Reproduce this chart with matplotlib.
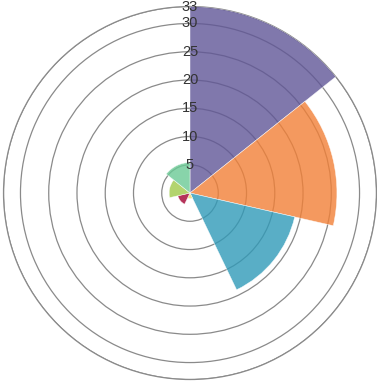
import numpy as np
import matplotlib
matplotlib.use("Agg")
import matplotlib.pyplot as plt

values = [33, 26, 19, 1, 2.2, 3.7, 5.4]
colors = ['#605697', '#f28037', '#309ab8', '#f3d86e', '#a30031', '#a0ca4a', '#6aca95']
ticks = [5, 10, 15, 20, 25, 30, 33]
rmax = 33

fig = plt.figure(figsize=(3.77, 3.86), dpi=100)
ax = fig.add_axes([0.0093, 0.0168, 0.9894, 0.9663], projection='polar')
ax.set_theta_zero_location('N')
ax.set_theta_direction(-1)

n = len(values)
width = 2 * np.pi / n
theta = np.arange(n) * width
ax.bar(theta, values, width=width, align='edge', color=colors, alpha=0.8,
       edgecolor='white', linewidth=0.4, zorder=3)

ax.set_ylim(0, rmax)
ax.set_yticks(ticks)
ax.set_yticklabels([])
ax.set_xticks([])
ax.set_axisbelow(True)
ax.yaxis.grid(True, color='#8a8a8a', linewidth=0.9)
ax.xaxis.grid(False)
ax.spines['polar'].set_color('#8a8a8a')
ax.spines['polar'].set_linewidth(0.9)

for t in ticks:
    ax.text(0, t, str(t), ha='center', va='center', fontsize=10.5,
            family='Liberation Sans', color='#333333', zorder=5)

fig.savefig('out.png', dpi=100)
